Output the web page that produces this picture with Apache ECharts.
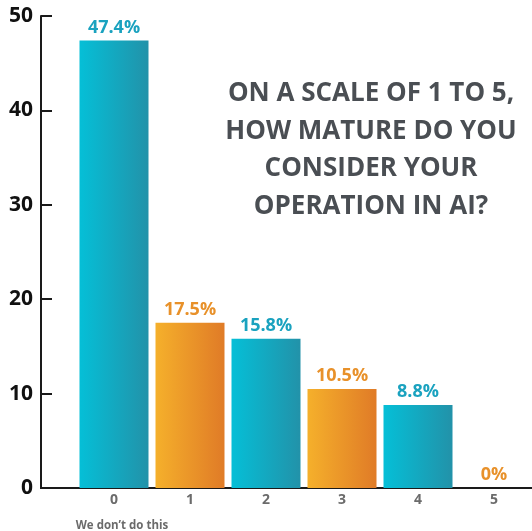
<!DOCTYPE html>
<html>
<head>
<meta charset="utf-8">
<script src="https://cdn.jsdelivr.net/npm/echarts@6/dist/echarts.min.js"></script>
<style>
  html, body { margin: 0; padding: 0; background: #fff; }
  #chart { width: 532px; height: 531px; }
</style>
</head>
<body>
<div id="chart"></div>
<script>
// Maturity levels on the x axis and share of responses (%)
const categories = ['0', '1', '2', '3', '4', '5'];
const values = [47.4, 17.5, 15.8, 10.5, 8.8, 0];
const subLabels = ["We don\u2019t do this", '', '', '', '', ''];
const yTicks = [0, 10, 20, 30, 40, 50];
const titleLines = ['ON A SCALE OF 1 TO 5,', 'HOW MATURE DO YOU', 'CONSIDER YOUR', 'OPERATION IN AI?'];

const teal = { from: '#05bfd7', to: '#2292a9', text: '#1aa2bf' };
const orange = { from: '#f5b02b', to: '#e07b27', text: '#e8912a' };

function paletteFor(i) { return i % 2 === 0 ? teal : orange; }

const chart = echarts.init(document.getElementById('chart'), null, { renderer: 'canvas' });

const option = {
  animation: false,
  backgroundColor: '#ffffff',
  grid: { left: 76, right: 0, top: 16, bottom: 43, containLabel: false, outerBoundsMode: 'none' },
  title: {
    text: titleLines.join('\n'),
    left: 366,
    top: 70,
    textAlign: 'center',
    textStyle: {
      fontFamily: 'Open Sans',
      fontWeight: 'bold',
      fontSize: 26,
      lineHeight: 37.5,
      color: '#4a4e53'
    }
  },
  xAxis: {
    type: 'category',
    data: categories,
    axisLine: { lineStyle: { color: '#1a1a1a', width: 2 } },
    axisTick: { show: false },
    axisLabel: {
      interval: 0,
      margin: 5,
      hideOverlap: false,
      formatter: function (v, i) {
        return subLabels[i] ? '{n|' + v + '}\n{s|' + subLabels[i] + '}' : '{n|' + v + '}';
      },
      rich: {
        n: { fontFamily: 'Open Sans', fontWeight: 'bold', fontSize: 14, color: '#6b6b6b', lineHeight: 14 },
        s: { fontFamily: 'Open Sans', fontWeight: 'bold', fontSize: 11.5, color: '#6b6b6b', lineHeight: 38, verticalAlign: 'middle', padding: [0, 0, 0, 16] }
      }
    }
  },
  yAxis: {
    type: 'value',
    min: yTicks[0],
    max: yTicks[yTicks.length - 1],
    interval: 10,
    offset: 35,
    splitLine: { show: false },
    axisLine: { show: true, lineStyle: { color: '#1a1a1a', width: 2 } },
    axisTick: { show: true, inside: true, length: 11, lineStyle: { color: '#1a1a1a', width: 2 } },
    axisLabel: {
      margin: 8,
      fontFamily: 'Open Sans',
      fontWeight: 'bold',
      fontSize: 21,
      color: '#111111'
    }
  },
  graphic: [
    // continue the baseline left to meet the y axis
    {
      type: 'line',
      shape: { x1: 40, y1: 488, x2: 77, y2: 488 },
      style: { stroke: '#1a1a1a', lineWidth: 2 },
      z: 10
    }
  ],
  series: [{
    type: 'bar',
    barWidth: 69,
    data: values.map(function (v, i) {
      const p = paletteFor(i);
      return {
        value: v,
        itemStyle: {
          color: new echarts.graphic.LinearGradient(0, 0, 1, 0, [
            { offset: 0, color: p.from },
            { offset: 1, color: p.to }
          ])
        },
        label: { color: p.text }
      };
    }),
    label: {
      show: true,
      position: 'top',
      distance: 4,
      fontFamily: 'Open Sans',
      fontWeight: 'bold',
      fontSize: 18,
      formatter: function (p) { return p.value + '%'; }
    }
  }]
};

chart.setOption(option);
</script>
</body>
</html>
